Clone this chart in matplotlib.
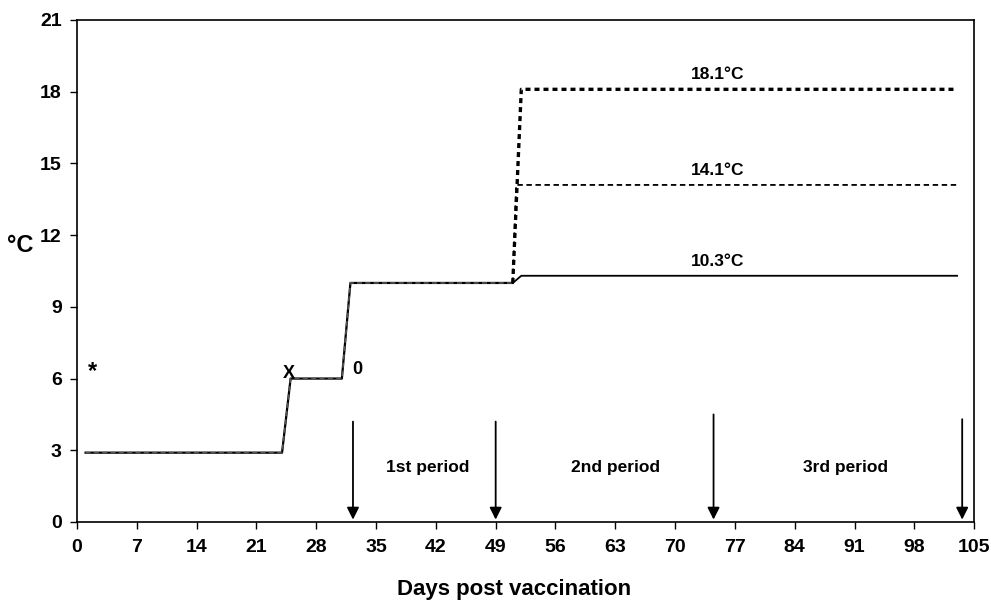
import numpy as np
import matplotlib.pyplot as plt

plt.rcParams['font.family'] = ['Liberation Sans', 'DejaVu Sans']
plt.rcParams['font.weight'] = 'bold'

# temperature profile, days post vaccination vs water temperature
days_common = [1, 24, 25, 31, 32, 51]
temp_common = [2.9, 2.9, 6.0, 6.0, 10.0, 10.0]

days_low = [51, 52, 103]
temp_low = [10.0, 10.3, 10.3]
days_mid = [51, 51.4, 103]
temp_mid = [10.0, 14.1, 14.1]
days_high = [51, 52, 103]
temp_high = [10.0, 18.1, 18.1]

group_labels = ['10.3°C', '14.1°C', '18.1°C']
group_temps = [10.3, 14.1, 18.1]

arrow_days = [32.3, 49, 74.5, 103.6]
arrow_tops = [4.2, 4.2, 4.5, 4.3]
period_labels = ['1st period', '2nd period', '3rd period']
period_x = [41, 63, 90]

markers = [(1.8, 6.3, '*'), (24.8, 6.2, 'X'), (32.8, 6.4, '0')]

fig = plt.figure(figsize=(9.91, 6.02), dpi=100)
ax = fig.add_axes([0.0777, 0.1329, 0.9053, 0.8339])

ax.plot(days_common, temp_common, color='black', lw=1.6)
ax.plot(days_common, temp_common, color='#555555', lw=1.2, ls=(0, (3, 2)))
ax.plot(days_low, temp_low, color='black', lw=1.3)
ax.plot(days_mid, temp_mid, color='black', lw=1.3, ls=(0, (3, 2)))
ax.plot(days_high, temp_high, color='black', lw=2.4, ls=(0, (1.5, 1.2)))

for lab, t in zip(group_labels, group_temps):
    ax.text(75, t + 0.3, lab, ha='center', va='bottom', fontsize=12.5, fontweight='bold')

for d, top in zip(arrow_days, arrow_tops):
    ax.annotate('', xy=(d, 0.1), xytext=(d, top),
                arrowprops=dict(arrowstyle='-|>', color='black', lw=1.3,
                                mutation_scale=18, shrinkA=0, shrinkB=0))

for lab, x in zip(period_labels, period_x):
    ax.text(x, 2.3, lab, ha='center', va='center', fontsize=12.5, fontweight='bold')

for x, y, s in markers:
    ax.text(x, y, s, ha='center', va='center', fontsize=17 if s == '*' else 13,
            fontweight='bold')

ax.set_xlim(0, 105)
ax.set_ylim(0, 21)
ax.set_xticks(np.arange(0, 106, 7))
ax.set_yticks(np.arange(0, 22, 3))
ax.tick_params(direction='out', length=5, labelsize=14, width=1)
ax.tick_params(axis='x', pad=7)
ax.tick_params(axis='y', pad=6)
for lbl in ax.get_xticklabels() + ax.get_yticklabels():
    lbl.set_fontweight('bold')
for sp in ax.spines.values():
    sp.set_linewidth(1.2)

fig.text(514 / 991, 1 - 589 / 602, 'Days post vaccination',
         fontsize=16, fontweight='bold', ha='center', va='center')
fig.text(20 / 991, 1 - 245 / 602, '°C', fontsize=17, fontweight='bold',
         ha='center', va='center')

fig.savefig('out.png', dpi=100)
